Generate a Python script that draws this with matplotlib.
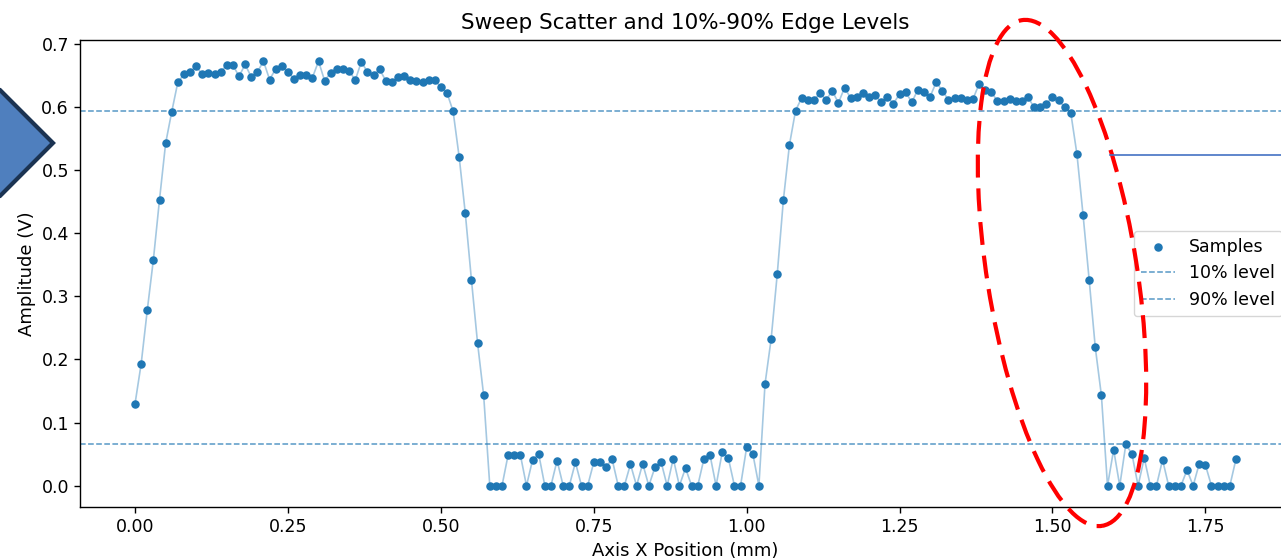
import numpy as np
import matplotlib
matplotlib.use("Agg")
import matplotlib.pyplot as plt
from matplotlib.patches import Polygon, Ellipse
from matplotlib.lines import Line2D
from matplotlib.transforms import IdentityTransform

# sample positions: one every 0.01 mm from 0 to 1.80
x_step = 0.01
n_samples = 181

amplitude = [
    0.130, 0.193, 0.278, 0.358, 0.453, 0.542, 0.592, 0.639, 0.651, 0.655,
    0.664, 0.651, 0.654, 0.652, 0.655, 0.666, 0.666, 0.648, 0.667, 0.647,
    0.655, 0.672, 0.643, 0.660, 0.664, 0.655, 0.644, 0.650, 0.650, 0.646,
    0.672, 0.641, 0.654, 0.659, 0.659, 0.657, 0.642, 0.671, 0.655, 0.650,
    0.659, 0.641, 0.639, 0.647, 0.648, 0.642, 0.641, 0.639, 0.643, 0.642,
    0.631, 0.622, 0.593, 0.520, 0.431, 0.326, 0.226, 0.143, 0.000, 0.000,
    0.000, 0.049, 0.049, 0.049, 0.000, 0.041, 0.050, 0.000, 0.000, 0.040,
    0.000, 0.000, 0.037, 0.000, 0.000, 0.037, 0.038, 0.030, 0.042, 0.000,
    0.000, 0.034, 0.000, 0.035, 0.000, 0.029, 0.038, 0.000, 0.043, 0.000,
    0.028, 0.000, 0.000, 0.042, 0.049, 0.000, 0.053, 0.044, 0.000, 0.000,
    0.061, 0.051, 0.000, 0.161, 0.232, 0.335, 0.452, 0.540, 0.594, 0.614,
    0.611, 0.611, 0.621, 0.611, 0.625, 0.606, 0.630, 0.614, 0.616, 0.621,
    0.615, 0.618, 0.607, 0.615, 0.605, 0.620, 0.623, 0.607, 0.627, 0.623,
    0.616, 0.639, 0.625, 0.611, 0.614, 0.614, 0.610, 0.612, 0.636, 0.626,
    0.623, 0.609, 0.609, 0.612, 0.609, 0.609, 0.615, 0.599, 0.600, 0.604,
    0.616, 0.610, 0.599, 0.590, 0.525, 0.429, 0.326, 0.219, 0.143, 0.000,
    0.057, 0.000, 0.066, 0.050, 0.000, 0.044, 0.000, 0.000, 0.041, 0.000,
    0.000, 0.000, 0.025, 0.000, 0.035, 0.033, 0.000, 0.000, 0.000, 0.000,
    0.042,
]
level_10 = 0.0665
level_90 = 0.5925

x_pos = np.round(np.arange(n_samples) * x_step, 2)

W, H = 1281, 558
fig = plt.figure(figsize=(W / 100, H / 100), dpi=100)
# axes run past the right edge of the picture (cropped screenshot)
ax = fig.add_axes([80 / W, 51 / H, (1291 - 80) / W, 467 / H])

ax.plot(x_pos, amplitude, color="C0", alpha=0.4, linewidth=1.2, zorder=2)
ax.scatter(x_pos, amplitude, s=26, color="C0", label="Samples", zorder=3)
ax.axhline(level_10, linestyle="--", color="C0", linewidth=1.1, alpha=0.75,
           label="10% level")
ax.axhline(level_90, linestyle="--", color="C0", linewidth=1.1, alpha=0.75,
           label="90% level")

ax.set_title("Sweep Scatter and 10%-90% Edge Levels", fontsize=15.5, pad=8)
ax.set_xlabel("Axis X Position (mm)", fontsize=13)
ax.set_ylabel("Amplitude (V)", fontsize=13)
ax.set_xticks([0, 0.25, 0.5, 0.75, 1.0, 1.25, 1.5, 1.75])
ax.set_xticklabels(["0.00", "0.25", "0.50", "0.75", "1.00", "1.25", "1.50", "1.75"])
ax.tick_params(labelsize=12.5, length=4.5, width=1)
for sp in ax.spines.values():
    sp.set_linewidth(1)
ax.legend(loc="center right", fontsize=12.5, scatterpoints=1)

# overlay annotations drawn on top of the screenshot (pixel coords, y up)
pix = IdentityTransform()
arrow = Polygon([(-20, H - 90), (0, H - 90), (53, H - 143), (0, H - 196), (-20, H - 196)],
                closed=True, facecolor="#4f7fbe", edgecolor="#1b3352",
                linewidth=3, joinstyle="miter", transform=pix)
fig.add_artist(arrow)

ring = Ellipse((1062, H - 273), width=150, height=512, angle=9, fill=False,
               edgecolor="red", linewidth=3, linestyle=(0, (5.5, 2.6)),
               transform=pix)
fig.add_artist(ring)

fig.add_artist(Line2D([1110, 1290], [H - 155, H - 155], color="#4472c4",
                      linewidth=1.2, transform=pix))

fig.savefig("out.png", dpi=100)
